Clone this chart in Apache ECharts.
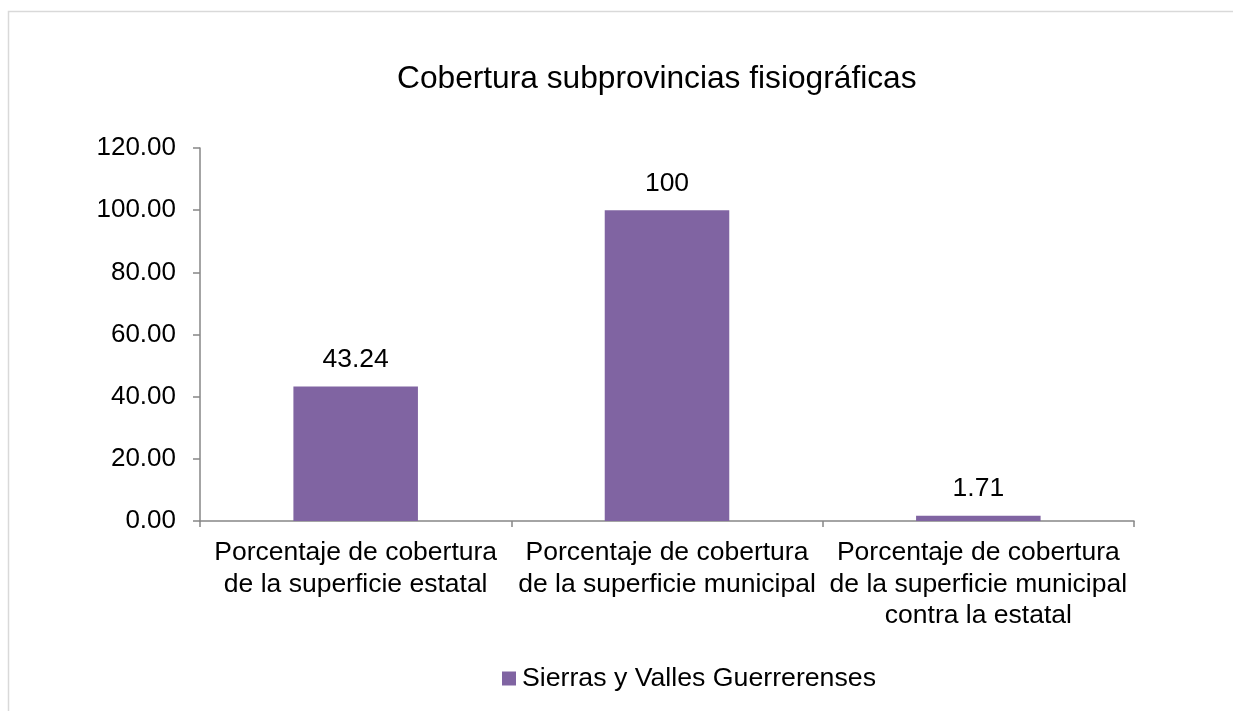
<!DOCTYPE html>
<html>
<head>
<meta charset="utf-8">
<script src="https://cdn.jsdelivr.net/npm/echarts@6/dist/echarts.min.js"></script>
<style>
html,body{margin:0;padding:0;background:#fff;}
#main{width:1233px;height:711px;}
</style>
</head>
<body>
<div id="main"></div>
<script>
const titleText = "Cobertura subprovincias fisiográficas";
const categories = [
  "Porcentaje de cobertura\nde la superficie estatal",
  "Porcentaje de cobertura\nde la superficie municipal",
  "Porcentaje de cobertura\nde la superficie municipal\ncontra la estatal"
];
const seriesName = "Sierras y Valles Guerrerenses";
const values = [43.24, 100, 1.71];
const valueLabels = ["43.24", "100", "1.71"];
const yMin = 0, yMax = 120, yInterval = 20;

const FONT = "'Liberation Sans', Arial, sans-serif";
const chart = echarts.init(document.getElementById('main'), null, {renderer: 'canvas'});
chart.setOption({
  animation: false,
  backgroundColor: '#ffffff',
  graphic: [{
    type: 'rect', silent: true,
    shape: {x: 8.5, y: 11.5, width: 1400, height: 900},
    style: {fill: 'none', stroke: '#d9d9d9', lineWidth: 1.5}
  }],
  title: {
    text: titleText, left: 392, top: 58,
    textStyle: {fontFamily: FONT, fontSize: 31.7, fontWeight: 'normal', color: '#000'}
  },
  legend: {
    top: 660, left: 497,
    itemWidth: 14, itemHeight: 14, itemGap: 10,
    icon: 'rect',
    textStyle: {fontFamily: FONT, fontSize: 26.7, color: '#000', padding: [0,0,0,1]},
    data: [seriesName]
  },
  grid: {left: 200, right: 99, top: 148, bottom: 190, containLabel: false},
  xAxis: {
    type: 'category', data: categories,
    axisLine: {lineStyle: {color: '#868686', width: 1.5}},
    axisTick: {show: true, length: 6, alignWithLabel: false, lineStyle: {color: '#868686', width: 1.5}},
    axisLabel: {fontFamily: FONT, fontSize: 26.5, color: '#000', lineHeight: 31.5, margin: 16, interval: 0}
  },
  yAxis: {
    type: 'value', min: yMin, max: yMax, interval: yInterval,
    axisLine: {show: true, lineStyle: {color: '#868686', width: 1.5}},
    axisTick: {show: true, length: 7, lineStyle: {color: '#868686', width: 1.5}},
    splitLine: {show: false},
    axisLabel: {fontFamily: FONT, fontSize: 26, color: '#000', margin: 24,
      formatter: v => v.toFixed(2)}
  },
  series: [{
    name: seriesName, type: 'bar', data: values,
    barWidth: '40%',
    itemStyle: {color: '#8064A2'},
    label: {show: true, position: 'top', distance: 13,
      fontFamily: FONT, fontSize: 26.5, color: '#000',
      formatter: p => valueLabels[p.dataIndex]}
  }]
});
</script>
</body>
</html>
